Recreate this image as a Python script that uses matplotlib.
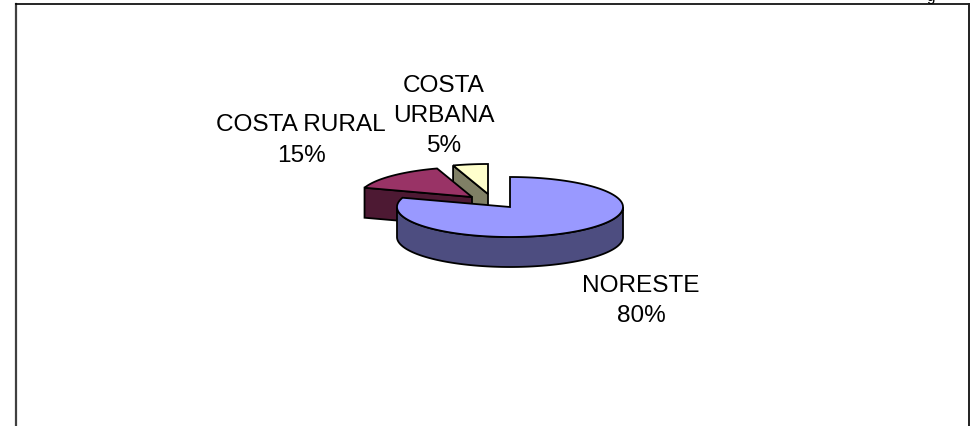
import numpy as np
import matplotlib
matplotlib.use('Agg')
import matplotlib.pyplot as plt

labels = ['NORESTE', 'COSTA RURAL', 'COSTA\nURBANA']
values = [80, 15, 5]
top_colors = ['#9999FF', '#993366', '#FFFFCC']
side_colors = ['#4D4D80', '#4D1933', '#808066']

# pie centres in pixels, two small slices are pulled out
centres = [(510, 208), (472, 198), (488, 195)]
label_pos = [(641, 301), (301, 140.5), (444, 116)]
rx, ry, depth = 113, 30, 30

plt.rcParams['font.family'] = ['Liberation Sans', 'DejaVu Sans']
fig = plt.figure(figsize=(9.72, 4.27), dpi=100)
ax = fig.add_axes([0, 0, 1, 1])
ax.set_xlim(0, 972)
ax.set_ylim(427, 0)
ax.axis('off')

# chart frame, runs off the bottom of the picture
ax.plot([16, 16], [427, 5], color='#404040', lw=1.6)
ax.plot([16, 969], [5, 5], color='black', lw=1.2)
ax.plot([969, 969], [5, 427], color='#202020', lw=1.4)
ax.text(931, -3, 'g', fontsize=11, ha='center', va='center', clip_on=False)


def arc(c, a0, a1):
    t = np.radians(np.linspace(a0, a1, 200))
    return c[0] + rx * np.cos(t), c[1] - ry * np.sin(t)


# angles go clockwise from the top
angles = 90 - np.cumsum([0] + values) * 3.6
for i in [2, 1, 0]:
    c = centres[i]
    a0, a1 = angles[i], angles[i + 1]
    if i == 0:
        # outer wall, only the front half of the rim can be seen
        x, y = arc(c, -180, 0)
        ax.fill(np.r_[x, x[::-1]], np.r_[y, y[::-1] + depth], fc=side_colors[i], ec='black', lw=1.3)
    else:
        # cut face on the left hand side of the slice
        x, y = arc(c, a0, a0)
        x = x[0]
        y = y[0]
        ax.fill([x, c[0], c[0], x], [y, c[1], c[1] + depth, y + depth],
                fc=side_colors[i], ec='black', lw=1.3)
    x, y = arc(c, a0, a1)
    ax.fill(np.r_[c[0], x], np.r_[c[1], y], fc=top_colors[i], ec='black', lw=1.3)

for name, v, p in zip(labels, values, label_pos):
    ax.text(p[0], p[1], f'{name}\n{v}%', fontsize=17.6, ha='center', va='center', linespacing=1.5)

fig.savefig('out.png', dpi=100)
